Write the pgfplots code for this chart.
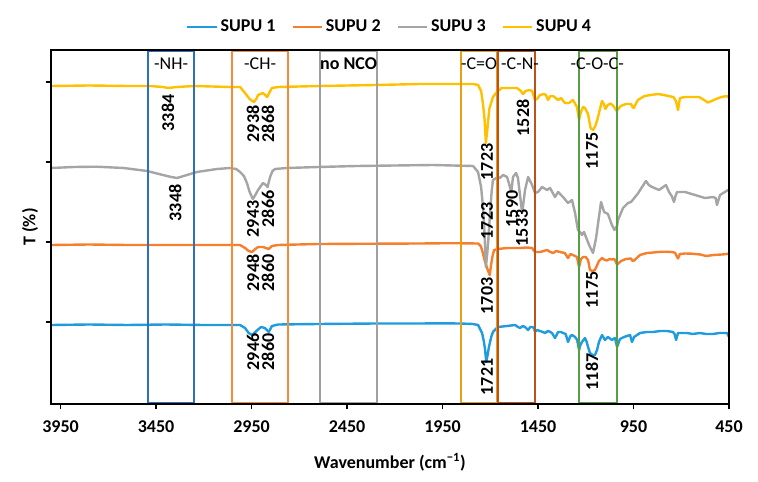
\documentclass[border=0pt]{standalone}
\usepackage{fontspec}
\setmainfont{Carlito}
\usepackage{pgfplots}
\pgfplotsset{compat=1.18}
\definecolor{c1}{HTML}{1F9BDE}
\definecolor{c2}{HTML}{F57F2C}
\definecolor{c3}{HTML}{A5A5A5}
\definecolor{c4}{HTML}{FFC000}
\definecolor{bNH}{HTML}{2E6FC0}
\definecolor{bCH}{HTML}{F58A3C}
\definecolor{bNCO}{HTML}{A0A0A0}
\definecolor{bCO}{HTML}{E5A113}
\definecolor{bCN}{HTML}{C0501A}
\definecolor{bCOC}{HTML}{5A9E44}
\newcommand{\fs}{\fontsize{13.5}{15}\selectfont}
\begin{document}
\begin{tikzpicture}
\begin{axis}[
 scale only axis, width=508.5pt, height=265.5pt,
 xmin=450, xmax=4000, ymin=0, ymax=354,
 x dir=reverse, clip=false, axis on top,
 xtick={450,950,...,3950},
 ytick={82,162,242,322}, yticklabels={},
 tick align=outside, major tick length=4pt,
 xtick pos=bottom, ytick pos=left,
 axis line style={line width=1.4pt},
 tick style={line width=1pt, black},
 /pgf/number format/assume math mode=true,
 /pgf/number format/1000 sep={},
 ticklabel style={font=\bfseries\fs},
 xticklabel style={yshift=-5pt},
 xlabel={Wavenumber (cm\textsuperscript{−1})},
 xlabel style={at={(axis description cs:0.5,-0.164)}, anchor=center, font=\bfseries\fs},
 ylabel={T (\%)},
 ylabel style={at={(axis description cs:-0.031,0.5)}, anchor=center, font=\bfseries\fs},
 legend style={at={(0.5,1.065)}, anchor=center, draw=none, legend columns=4,
   font=\bfseries\fs,
   /tikz/every even column/.append style={column sep=10pt}},
 legend image code/.code={\draw[#1, line width=1.8pt] (0pt,0pt) -- (22pt,0pt);},
 every axis plot/.append style={line width=1.8pt, line join=round, mark=none},
]
\addplot[c1] coordinates {(4000,79)(3800,79.5)(3600,79)(3400,79.5)(3200,79)(3060,79)(3010,79)(2984,76)(2965,71)(2946,69)(2925,73)(2900,77)(2880,76)(2860,72)(2843,78)(2811,79.5)(2600,80)(2300,80.5)(2068,80.5)(1963,80.7)(1858,80.5)(1790,80)(1764,79)(1743,71)(1733,62)(1727,54)(1721,42)(1713,50)(1707,57)(1695,67)(1686,72)(1660,77)(1612,78)(1570,79)(1555,77)(1544,76)(1530,78)(1518,77)(1502,74)(1490,77)(1481,77)(1470,76)(1466,72)(1455,74)(1440,73)(1425,72)(1413,71)(1398,73)(1385,72)(1377,71)(1361,66)(1345,72)(1330,72)(1319,71)(1305,70)(1293,62)(1280,68)(1272,69)(1256,67)(1245,64)(1235,54)(1228,59)(1220,62)(1204,66)(1195,62)(1188,57)(1178,51)(1165,49)(1152,49)(1141,54)(1131,62)(1115,69)(1099,64)(1084,67)(1063,64)(1047,66)(1036,57)(1021,65)(1000,67)(984,68)(968,69)(958,62)(947,67)(916,71)(880,72)(848,72)(810,73)(775,73)(743,72)(735,70)(727,64)(717,71)(670,71)(640,70)(602,71)(570,70)(534,70)(500,71)(460,71)(450,67)};
\addlegendentry{SUPU 1}
\addplot[c2] coordinates {(4000,159)(3800,159.5)(3600,159)(3400,159)(3200,159)(3010,159)(2984,156)(2965,153)(2948,152)(2930,155)(2916,157)(2890,157)(2875,156)(2860,155)(2843,158)(2811,159)(2600,160)(2300,160.3)(2068,160.5)(1963,160.7)(1858,160.7)(1764,160.5)(1750,158)(1743,154)(1727,142)(1715,135)(1703,129)(1695,140)(1688,148)(1680,154)(1660,155)(1612,156)(1580,156)(1544,156)(1510,156.5)(1481,156)(1466,152)(1440,152)(1420,153)(1403,154)(1385,152)(1371,151)(1355,153)(1335,152)(1310,151)(1293,146)(1280,150)(1267,149)(1246,147)(1235,137)(1225,145)(1214,147)(1200,147)(1188,144)(1178,134)(1165,133)(1152,134)(1140,139)(1131,143)(1115,146)(1100,144)(1089,143.5)(1075,145)(1063,144.5)(1050,145)(1036,139.4)(1015,143)(990,145)(963,145.5)(955,143)(947,143.5)(916,149)(880,151)(858,151.3)(820,152)(785,152.3)(750,152)(733,151.3)(724,148)(717,145.5)(707,150)(680,150.5)(644,150.3)(600,149.5)(570,148)(530,149)(481,149.6)(450,150.3)};
\addlegendentry{SUPU 2}
\addplot[c3] coordinates {(4000,236)(3880,237)(3759,237.3)(3620,236)(3497,233)(3414,229)(3370,227)(3340,226)(3288,229)(3236,232)(3131,235)(3063,236)(3030,235)(3010,232)(2990,228)(2974,221)(2960,212)(2943,205)(2930,209)(2916,214)(2890,221)(2875,219)(2866,217)(2853,227)(2840,233)(2827,235)(2764,236)(2600,237)(2400,238)(2200,238.5)(2000,239)(1790,238)(1764,232)(1748,217)(1738,197)(1730,170)(1723,137)(1716,150)(1710,165)(1701,191)(1693,212)(1686,224)(1660,227)(1649,226)(1633,229)(1612,227)(1597,217)(1590,212)(1581,227)(1565,231)(1555,226)(1545,210)(1533,191)(1525,203)(1518,214)(1502,227)(1481,219)(1466,211)(1450,212)(1429,217)(1403,214)(1387,216)(1361,207)(1345,212)(1319,207)(1293,201)(1272,204)(1256,191)(1241,174)(1225,171)(1220,169)(1209,172)(1193,164)(1178,157)(1162,151)(1146,166)(1131,187)(1120,202)(1104,192)(1084,190)(1063,179)(1050,174)(1036,178)(1031,184)(1005,196)(979,201)(963,202)(927,210.5)(885,223)(870,219)(853,217)(816,214)(780,219)(764,212)(750,208)(738,202)(730,208)(722,212)(680,212)(628,209)(576,206)(534,207)(520,206)(513,199)(497,209)(455,214)(450,214)};
\addlegendentry{SUPU 3}
\addplot[c4] coordinates {(4000,318)(3800,318.5)(3600,318)(3480,318)(3414,317)(3387,316)(3340,317)(3250,318)(3063,317)(3010,317)(2984,311)(2960,305)(2938,302)(2925,305)(2916,309)(2890,311)(2868,307)(2855,312)(2843,316)(2811,317)(2591,318)(2300,319)(2068,320)(1790,320)(1764,319)(1748,313)(1738,300)(1730,285)(1723,261)(1715,275)(1705,295)(1686,307)(1665,312)(1640,316)(1560,316)(1540,313)(1528,310)(1515,313)(1495,314)(1481,313)(1466,304)(1455,305)(1440,309)(1420,310)(1408,309)(1398,304)(1385,308)(1371,308)(1345,304)(1330,306)(1309,301)(1288,301)(1267,304)(1246,297)(1235,284)(1225,292)(1214,297)(1204,296)(1188,290)(1175,276)(1162,274)(1150,278)(1140,284)(1132,290)(1115,303)(1105,300)(1097,295)(1085,299)(1070,300.5)(1055,298)(1038,293)(1017,298)(990,300)(963,300)(955,297)(949,296)(927,304)(892,308)(860,309)(822,310)(790,309)(769,308)(741,307)(728,303)(717,294)(707,306)(680,307)(659,307)(607,307)(580,304)(562,301.5)(540,303)(518,305)(490,307)(460,308)(450,306)};
\addlegendentry{SUPU 4}
% boxes
\draw[bNH, line width=1.1pt] (axis cs:3492,1) rectangle (axis cs:3251,353);
\draw[bCH, line width=1.1pt] (axis cs:3052,1) rectangle (axis cs:2759,353);
\draw[bNCO, line width=1.1pt] (axis cs:2592,1) rectangle (axis cs:2293,353);
\draw[bCO, line width=1.1pt] (axis cs:1853,1) rectangle (axis cs:1665,353);
\draw[bCN, line width=1.1pt] (axis cs:1660,1) rectangle (axis cs:1466,353);
\draw[bCOC, line width=1.1pt] (axis cs:1235,1) rectangle (axis cs:1036,353);
% box labels
\begin{scope}[every node/.style={font=\fs, inner sep=0pt}]
\node at (axis cs:3371,340) {-NH-};
\node at (axis cs:2905,340) {-CH-};
\node at (axis cs:2442,340) {\bfseries no NCO};
\node at (axis cs:1759,340) {-C=O};
\node at (axis cs:1544,340) {-C-N-};
\node at (axis cs:1140,340) {-C-O-C-};
\end{scope}
% peak labels
\begin{scope}[every node/.style={font=\bfseries\fs, rotate=90, inner sep=0pt}]
\node at (axis cs:3387,291) {3384};
\node at (axis cs:2942,280) {2938};
\node at (axis cs:2864,280) {2868};
\node at (axis cs:3350,201) {3348};
\node at (axis cs:2942,185) {2943};
\node at (axis cs:2864,195) {2866};
\node at (axis cs:2942,131) {2948};
\node at (axis cs:2864,131) {2860};
\node at (axis cs:2942,52) {2946};
\node at (axis cs:2864,52) {2860};
\node at (axis cs:1717,242) {1723};
\node at (axis cs:1529,286) {1528};
\node at (axis cs:1167,253) {1175};
\node at (axis cs:1717,183) {1723};
\node at (axis cs:1586,195) {1590};
\node at (axis cs:1534,176) {1533};
\node at (axis cs:1717,108) {1703};
\node at (axis cs:1167,114) {1175};
\node at (axis cs:1717,27) {1721};
\node at (axis cs:1167,32) {1187};
\end{scope}
\coordinate (bl) at (rel axis cs:0,0);
\coordinate (tr) at (rel axis cs:1,1);
\end{axis}
\pgfresetboundingbox
\path[use as bounding box] ([shift={(-38.25pt,-57.75pt)}]bl) rectangle ([shift={(21.75pt,37.5pt)}]tr);
\end{tikzpicture}
\end{document}
